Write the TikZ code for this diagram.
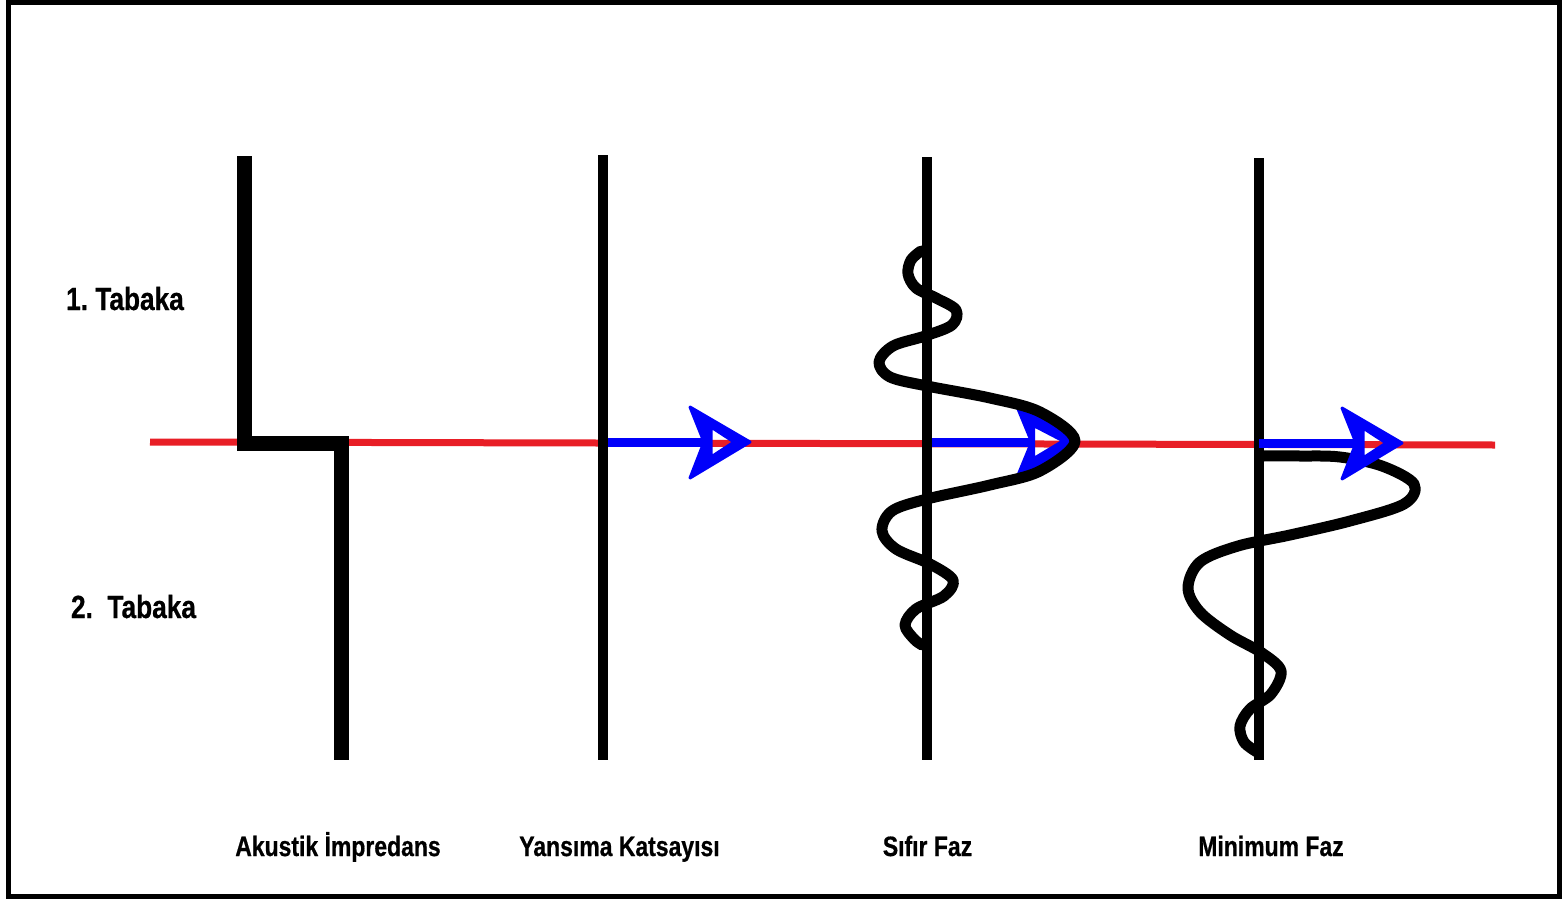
\documentclass[tikz,border=0pt]{standalone}
\usepackage{fontspec}
\setmainfont{Liberation Sans}[FakeStretch=0.82,BoldFeatures={FakeBold=0.6}]
\frenchspacing
\definecolor{redline}{RGB}{232,30,38}
\definecolor{bluearrow}{RGB}{0,0,250}
\begin{document}
\begin{tikzpicture}[x=1pt,y=-1pt,
  frame/.style={draw=black,line width=5pt},
  axisline/.style={draw=black,line width=10pt},
  imped/.style={draw=black,line width=15pt,line join=miter},
  redstyle/.style={draw=redline,line width=7pt},
  shaft/.style={draw=bluearrow,line width=9pt},
  wave/.style={draw=black,line width=11pt,line cap=round,line join=round},
  bigl/.style={inner sep=0pt,anchor=base,font=\bfseries\fontsize{32}{36}\selectfont},
  smalll/.style={inner sep=0pt,anchor=base,font=\bfseries\fontsize{28}{32}\selectfont},
  openhead/.pic={
    \path[fill=bluearrow,draw=bluearrow,line width=3pt,line join=round,even odd rule]
      (-60,-35) -- (0,0) -- (-60,36) -- (-46,0) -- cycle
      (-39,-15) -- (-16,0) -- (-39,15) -- cycle;
  }]
\useasboundingbox (0,0) rectangle (1562,899);
\fill[white] (0,0) rectangle (1562,899);
\draw[frame] (8.5,2.5) rectangle (1559.5,896.5);

% coordinates
\coordinate (redL) at (150,442);
\coordinate (redR) at (1495,445);
\coordinate (iTop) at (244,156);
\coordinate (iMidL) at (244,443);
\coordinate (iMidR) at (341,443);
\coordinate (iBot) at (341,760);
\coordinate (yTop) at (603,155);
\coordinate (yBot) at (603,760);
\coordinate (sTop) at (927,157);
\coordinate (sBot) at (927,760);
\coordinate (mTop) at (1259,158);
\coordinate (mBot) at (1259,760);

% red horizon
\draw[redstyle] (redL) -- (redR);

% Yansima arrow
\coordinate (yS) at (603,442);
\coordinate (yN) at (704,442);
\draw[shaft] (yS) -- (yN);
\pic at (750,442) {openhead};

% Sifir faz arrow (head partly filled up to the wavelet)
\coordinate (sS) at (927,442);
\coordinate (sN) at (1030,442);
\path[fill=bluearrow,even odd rule]
  (1016,408) -- (1045,413) -- (1074,441) -- (1045,471) -- (1016,476) -- (1030,442) -- cycle
  (1035,428) -- (1060,441) -- (1035,456) -- cycle;
\draw[shaft] (sS) -- (sN);

% vertical lines
\draw[imped] (iTop) -- (iMidL) -- (iMidR) -- (iBot);
\draw[axisline] (yTop) -- (yBot);
\draw[axisline] (sTop) -- (sBot);
\draw[axisline] (mTop) -- (mBot);

% zero-phase wavelet
\draw[wave] plot[smooth,tension=0.55] coordinates {
 (921,251) (911,260) (908,274) (916,288) (936,298) (956,310) (952,325)
 (925,336) (893,346) (879,362) (890,377) (927,386) (990,398) (1040,412)
 (1075,441)
 (1040,471) (990,485) (927,499) (892,511) (882,531) (896,549) (930,564)
 (953,580) (944,596) (916,609) (905,625) (914,639) (922,645)};

% minimum-phase wavelet
\draw[wave] plot[smooth,tension=0.55] coordinates {
 (1263,456) (1300,456) (1340,457) (1382,466) (1414,484) (1404,504)
 (1350,521) (1290,535) (1238,546) (1200,562) (1188,588) (1200,612)
 (1230,635) (1262,653) (1281,671) (1271,694) (1250,709) (1240,726)
 (1244,742) (1257,752)};

% min faz arrow (on top)
\coordinate (mS) at (1259,443);
\coordinate (mN) at (1356,443);
\draw[shaft] (mS) -- (mN);
\pic at (1402,443) {openhead};

% labels
\node[bigl] (t1) at (125,310) {1. Tabaka};
\node[bigl] (t2) at (133.5,618) {2.\ \ Tabaka};
\node[smalll] (l1) at (338,856) {Akustik İmpredans};
\node[smalll] (l2) at (619.5,856) {Yansıma Katsayısı};
\node[smalll] (l3) at (927.5,856) {Sıfır Faz};
\node[smalll] (l4) at (1271,856) {Minimum Faz};
\end{tikzpicture}
\end{document}
